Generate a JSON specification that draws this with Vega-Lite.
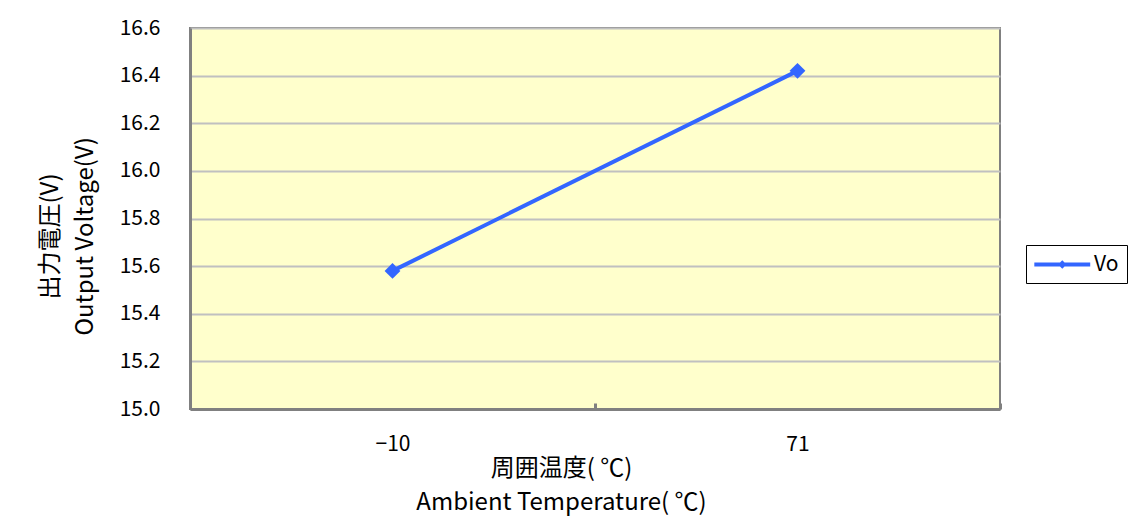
{
  "$schema": "https://vega.github.io/schema/vega-lite/v6.json",
  "autosize": "none",
  "width": 810,
  "height": 381,
  "padding": {"left": 190, "top": 28, "right": 141, "bottom": 112},
  "background": "white",
  "config": {
    "font": "Noto Sans CJK JP",
    "view": {"fill": "#ffffcc", "stroke": "#808080", "strokeWidth": 2}
  },
  "data": {
    "values": [
      {"temp": -10, "vo": 15.58, "series": "Vo"},
      {"temp": 71, "vo": 16.42, "series": "Vo"}
    ]
  },
  "mark": {
    "type": "line",
    "strokeWidth": 4,
    "point": {"shape": "diamond", "size": 250, "filled": true, "opacity": 1}
  },
  "encoding": {
    "x": {
      "field": "temp",
      "type": "ordinal",
      "sort": "ascending",
      "bandPosition": 0.5,
      "scale": {"type": "band", "paddingInner": 0, "paddingOuter": 0},
      "axis": {
        "title": ["周囲温度( ℃)", "Ambient Temperature( ℃)"],
        "labelExpr": "replace(datum.label, '-', '−')",
        "labelAngle": 0,
        "labelFontSize": 21,
        "labelColor": "black",
        "labelPadding": 30,
        "domainColor": "#808080",
        "domainWidth": 3,
        "ticks": true,
        "tickBand": "extent",
        "tickSize": -6,
        "tickColor": "#808080",
        "tickWidth": 3,
        "grid": false,
        "titleFontSize": 24,
        "titleFontWeight": "normal",
        "titleColor": "black",
        "titleLineHeight": 34,
        "titleX": 371,
        "titleY": 47,
        "titleAlign": "center",
        "titleBaseline": "top"
      }
    },
    "y": {
      "field": "vo",
      "type": "quantitative",
      "scale": {"domain": [15, 16.6], "nice": false, "zero": false},
      "axis": {
        "values": [15, 15.2, 15.4, 15.6, 15.8, 16, 16.2, 16.4, 16.6],
        "format": ".1f",
        "labelFontSize": 21,
        "labelColor": "black",
        "labelPadding": 30,
        "ticks": false,
        "domainColor": "#808080",
        "domainWidth": 3,
        "grid": true,
        "gridColor": "#c0c0c0",
        "gridWidth": 2,
        "title": ["出力電圧(V)", "Output Voltage(V)"],
        "titleFontSize": 24,
        "titleFontWeight": "normal",
        "titleColor": "black",
        "titleLineHeight": 35,
        "titleX": -140,
        "titleY": 208,
        "titleAlign": "center",
        "titleBaseline": "middle",
        "titleAngle": 270
      }
    },
    "color": {
      "field": "series",
      "type": "nominal",
      "scale": {"range": ["#3366ff"]},
      "legend": {
        "title": null,
        "orient": "none",
        "legendX": 836,
        "legendY": 217,
        "strokeColor": "black",
        "fillColor": "white",
        "padding": 8,
        "symbolType": "M-1,-0.18H4V0.18H-1Z M1.5,-0.38L1.88,0L1.5,0.38L1.12,0Z",
        "symbolSize": 500,
        "symbolFillColor": "#3366ff",
        "symbolStrokeColor": "#3366ff",
        "symbolStrokeWidth": 0,
        "labelFontSize": 21,
        "labelColor": "black",
        "labelOffset": 37
      }
    }
  }
}
